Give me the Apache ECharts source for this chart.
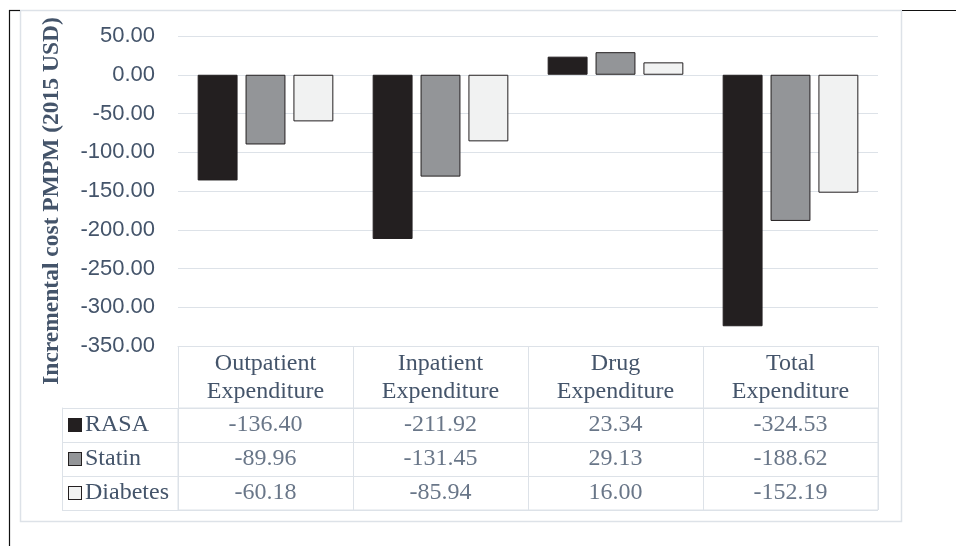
<!DOCTYPE html>
<html>
<head>
<meta charset="utf-8">
<script src="https://cdn.jsdelivr.net/npm/echarts@6/dist/echarts.min.js"></script>
<style>html,body{margin:0;padding:0;background:#fff;}#c{width:956px;height:546px;}</style>
</head>
<body>
<div id="c"></div>
<script>
const categories = ['Outpatient\nExpenditure', 'Inpatient\nExpenditure', 'Drug\nExpenditure', 'Total\nExpenditure'];
const seriesNames = ['RASA', 'Statin', 'Diabetes'];
const rasa = [-136.40, -211.92, 23.34, -324.53];
const statin = [-89.96, -131.45, 29.13, -188.62];
const diabetes = [-60.18, -85.94, 16.00, -152.19];
const yTicks = { min: -350, max: 50, interval: 50 };
const yTitle = 'Incremental cost PMPM (2015 USD)';

const colors = ['#231f20', '#939598', '#f1f2f2'];
const textColor = '#44546a';
const lineColor = '#dde2e8';
const values = [rasa, statin, diabetes];

const chart = echarts.init(document.getElementById('c'));

const cellData = [];
values.forEach((arr, r) => {
  arr.forEach((v, c) => {
    cellData.push({ value: [c, r], txt: v.toFixed(2) });
  });
});

const rich = {};
seriesNames.forEach((n, i) => {
  rich['s' + i] = { width: 12, height: 12, backgroundColor: colors[i], borderColor: '#231f20', borderWidth: 1 };
});
rich.t = { fontFamily: 'Liberation Serif', fontSize: 24, color: textColor, padding: [0, 0, 0, 4] };

const option = {
  animation: false,
  backgroundColor: '#fff',
  grid: [
    { left: 178, right: 78, top: 36, bottom: 200 },
    { left: 178, right: 78, top: 408, bottom: 36, show: true, borderColor: lineColor, borderWidth: 1 }
  ],
  xAxis: [
    {
      type: 'category', gridIndex: 0, data: categories,
      axisLine: { show: true, onZero: false, lineStyle: { color: lineColor, width: 1 } },
      axisTick: { show: false }, axisLabel: { show: false }
    },
    {
      type: 'category', gridIndex: 1, data: categories, position: 'top',
      axisLine: { show: true, lineStyle: { color: lineColor, width: 1 } },
      axisTick: { show: true, length: 62, interval: 0, lineStyle: { color: lineColor, width: 1 } },
      splitLine: { show: true, interval: 0, lineStyle: { color: lineColor, width: 1 } },
      axisLabel: { show: true, interval: 0, margin: 2, fontFamily: 'Liberation Serif', fontSize: 24, lineHeight: 28, color: textColor, align: 'center' }
    }
  ],
  yAxis: [
    {
      type: 'value', gridIndex: 0, min: yTicks.min, max: yTicks.max, interval: yTicks.interval,
      axisLine: { show: false }, axisTick: { show: false },
      splitLine: { show: true, lineStyle: { color: lineColor, width: 1 } },
      axisLabel: { margin: 23, fontFamily: 'Liberation Sans', fontSize: 22, color: textColor, formatter: v => v.toFixed(2) }
    },
    {
      type: 'category', gridIndex: 1, data: seriesNames, inverse: true,
      axisLine: { show: true, lineStyle: { color: lineColor, width: 1 } },
      axisTick: { show: true, length: 116, interval: 0, lineStyle: { color: lineColor, width: 1 } },
      splitLine: { show: true, interval: 0, lineStyle: { color: lineColor, width: 1 } },
      axisLabel: {
        show: true, interval: 0, margin: 109, align: 'left',
        formatter: (v, i) => '{s' + i + '|}{t|' + v + '}', rich: rich
      }
    },
    {
      type: 'category', gridIndex: 1, data: seriesNames, inverse: true, position: 'left', offset: 116,
      axisLine: { show: true, lineStyle: { color: lineColor, width: 1 } },
      axisTick: { show: false }, axisLabel: { show: false }, splitLine: { show: false }
    }
  ],
  series: values.map((arr, i) => ({
    name: seriesNames[i], type: 'bar', xAxisIndex: 0, yAxisIndex: 0, data: arr,
    barWidth: '22.8%', barGap: '20%',
    itemStyle: { color: colors[i], borderColor: '#231f20', borderWidth: 1 }
  })).concat([{
    type: 'scatter', xAxisIndex: 1, yAxisIndex: 1, data: cellData,
    symbolSize: 1, itemStyle: { color: 'rgba(0,0,0,0)' }, silent: true,
    label: {
      show: true, position: 'inside', fontFamily: 'Liberation Serif', fontSize: 24, color: textColor,
      formatter: p => p.data.txt
    }
  }]),
  graphic: [
    { type: 'rect', shape: { x: 20.5, y: 10.5, width: 881, height: 511 }, style: { fill: 'none', stroke: lineColor, lineWidth: 1.5 }, silent: true },
    { type: 'line', shape: { x1: 9.5, y1: 10, x2: 9.5, y2: 546 }, style: { stroke: '#111', lineWidth: 1.2 } },
    { type: 'line', shape: { x1: 9, y1: 10.5, x2: 20, y2: 10.5 }, style: { stroke: '#111', lineWidth: 1.2 } },
    { type: 'line', shape: { x1: 902, y1: 10.5, x2: 956, y2: 10.5 }, style: { stroke: '#111', lineWidth: 1.2 } },
    {
      type: 'text', x: 52, y: 201, rotation: Math.PI / 2,
      style: { text: yTitle, font: 'bold 23.5px "Liberation Serif"', fill: textColor, textAlign: 'center', textVerticalAlign: 'middle' }
    }
  ]
};
chart.setOption(option);
</script>
</body>
</html>
